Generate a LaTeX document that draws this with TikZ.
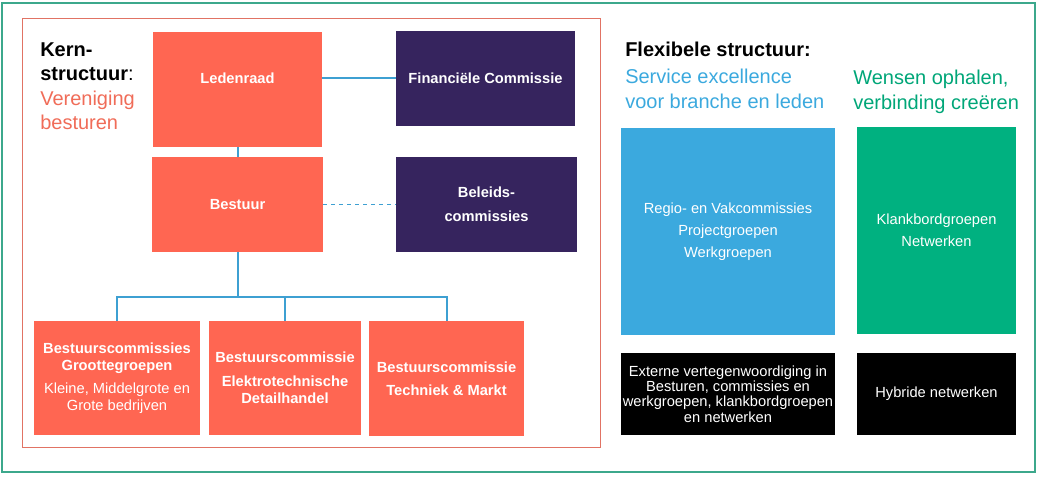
\documentclass[tikz,border=0pt]{standalone}
\usepackage{fontspec}
\setmainfont{Liberation Sans}
\usetikzlibrary{positioning}
\definecolor{koraal}{RGB}{255,102,82}
\definecolor{koptekst}{RGB}{240,108,88}
\definecolor{paars}{RGB}{54,36,94}
\definecolor{lijnblauw}{RGB}{62,160,210}
\definecolor{vlakblauw}{RGB}{59,169,222}
\definecolor{vlakgroen}{RGB}{0,177,128}
\definecolor{tekstgroen}{RGB}{0,166,120}
\definecolor{kaderteal}{RGB}{60,168,140}
\definecolor{kaderrood}{RGB}{225,115,100}

\begin{document}
\begin{tikzpicture}[x=0.75pt,y=-0.75pt,
  vlak/.style 2 args={minimum width=#1*0.75pt,minimum height=#2*0.75pt,
    inner sep=0pt,outer sep=0pt,align=center,text=white},
  vet/.style={font=\fontsize{11}{13}\selectfont\bfseries},
  gewoon/.style={font=\fontsize{11}{16.5}\selectfont},
  kop/.style={font=\fontsize{15}{18.4}\selectfont,align=left,inner sep=0pt,anchor=north west},
  lijn/.style={lijnblauw,line width=1.5pt}]
  \useasboundingbox (0,0) rectangle (1038,477);
  \draw[kaderteal,line width=0.9pt] (2,3) rectangle (1035,472);
  \draw[kaderrood,line width=0.6pt] (22,18) rectangle (600,447);

  % kernstructuur
  \node[kop] (kern) at (40,42) {\textbf{Kern-}\\\textbf{structuur}:\\
    \textcolor{koptekst}{Vereniging}\\\textcolor{koptekst}{besturen}};
  \node[vlak={169}{115},fill=koraal,
    label={[vet,text=white,yshift=8.6pt]center:Ledenraad}] (led) at (237.5,89.5) {};
  \node[vlak={179}{95},fill=paars,vet] (fin) at (485.5,78.5) {Financiële Commissie};
  \node[vlak={171}{95},fill=koraal,vet] (bes) at (237.5,204.5) {Bestuur};
  \node[vlak={181}{95},fill=paars,vet] (bel) at (486.5,204.5) {Beleids-\\[5pt]commissies};
  \node[vlak={166}{114},fill=koraal,vet] (bc1) at (117,378)
    {Bestuurscommissies\\Groottegroepen\\[4pt]\mdseries Kleine, Middelgrote en\\
     \mdseries Grote bedrijven};
  \node[vlak={152}{114},fill=koraal,vet] (bc2) at (285,378)
    {Bestuurscommissie\\[5pt]Elektrotechnische\\Detailhandel};
  \node[vlak={155}{115},fill=koraal,vet] (bc3) at (446.5,378.5)
    {Bestuurscommissie\\[4pt]Techniek \& Markt};

  \draw[lijn] (led.east |- fin.west) -- (fin.west);
  \draw[lijn,line width=0.8pt,dashed] (bes.east) -- (bel.west);
  \draw[lijn] (led) -- (bes);
  \coordinate (tak) at (237.5,297);
  \draw[lijn] (bes) -- (tak);
  \draw[lijn] (bc1.north) |- (tak) -| (bc3.north);
  \draw[lijn] (bc2.north |- tak) -- (bc2.north);

  % flexibele structuur
  \node[kop] (flex) at (625,42) {\textbf{Flexibele structuur:}\\[2pt]
    \textcolor{vlakblauw}{Service excellence}\\\textcolor{vlakblauw}{voor branche en leden}};
  \node[kop,text=tekstgroen] (wens) at (853,70) {Wensen ophalen,\\verbinding creëren};
  \node[vlak={214}{207},fill=vlakblauw,gewoon] (regio) at (728,231.5)
    {Regio- en Vakcommissies\\Projectgroepen\\Werkgroepen};
  \node[vlak={159}{207},fill=vlakgroen,gewoon] (klank) at (936.5,230.5)
    {Klankbordgroepen\\Netwerken};
  \node[vlak={214}{82},fill=black,font=\fontsize{11}{11.6}\selectfont] (extern) at (728,394)
    {Externe vertegenwoordiging in\\Besturen, commissies en\\werkgroepen, klankbordgroepen\\en netwerken};
  \node[vlak={159}{82},fill=black,font=\fontsize{11}{13}\selectfont] (hybride) at (936.5,394)
    {Hybride netwerken};
\end{tikzpicture}
\end{document}
